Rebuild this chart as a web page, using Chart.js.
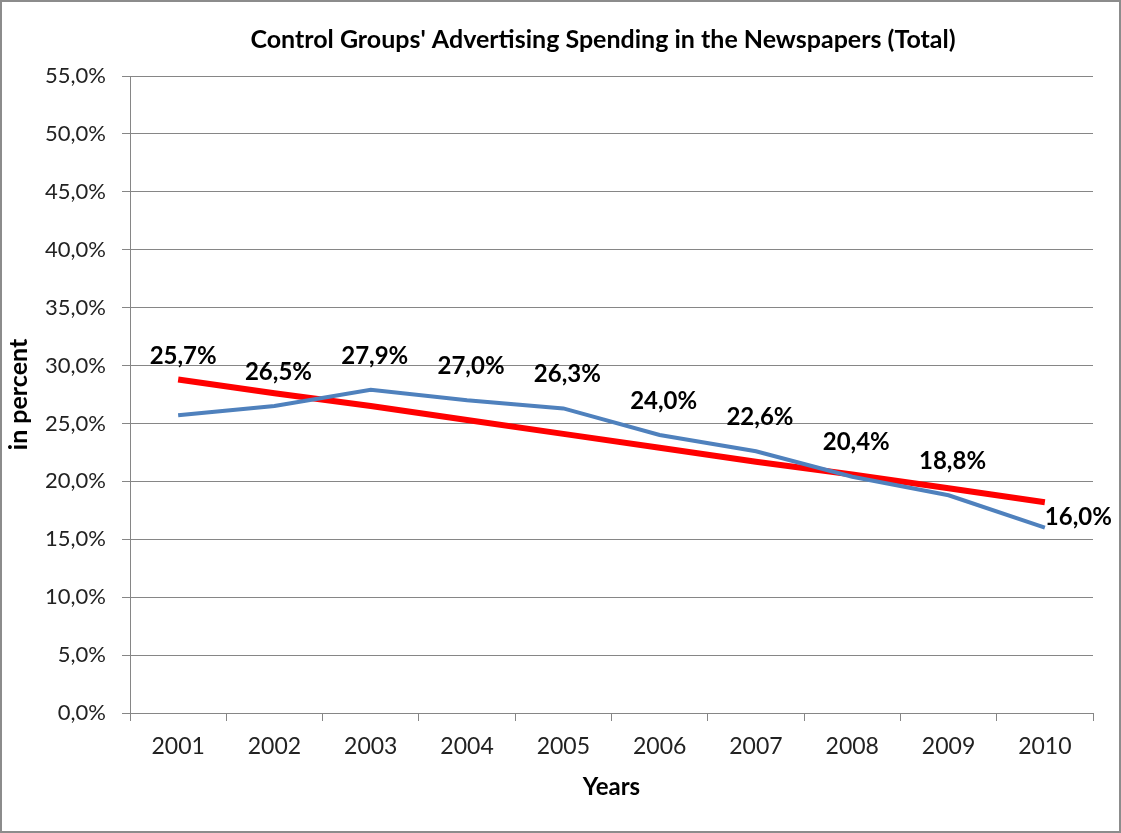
<!DOCTYPE html>
<html>
<head>
<meta charset="utf-8">
<script src="https://cdn.jsdelivr.net/npm/chart.js@4"></script>
<style>
  html, body { margin: 0; padding: 0; background: #fff; }
  #wrap { width: 1121px; height: 833px; }
</style>
</head>
<body>
<div id="wrap"><canvas id="spendChart" width="1121" height="833"></canvas></div>
<script>
// Jahre und Werte (in Prozent)
const years = ['2001', '2002', '2003', '2004', '2005', '2006', '2007', '2008', '2009', '2010'];
const spending = [25.7, 26.5, 27.9, 27.0, 26.3, 24.0, 22.6, 20.4, 18.8, 16.0];
// Trendlinie
const trend = [28.8, 27.6, 26.5, 25.3, 24.1, 22.9, 21.7, 20.6, 19.4, 18.2];

const chartTitle = "Control Groups' Advertising Spending in the Newspapers (Total)";
const fontFam = 'Lato, "Open Sans", sans-serif';

function pct(v) {
    return v.toFixed(1).replace('.', ',') + '%';
}

// Rahmen, Titel und Datenbeschriftungen
const decorPlugin = {
    id: 'decor',
    beforeDraw(chart) {
        const ctx = chart.ctx;
        ctx.save();
        ctx.fillStyle = '#fff';
        ctx.fillRect(0, 0, chart.width, chart.height);
        ctx.restore();
    },
    afterDraw(chart) {
        const ctx = chart.ctx;
        ctx.save();
        // Rahmen
        ctx.strokeStyle = '#8c8c8c';
        ctx.lineWidth = 2;
        ctx.strokeRect(1, 1, chart.width - 2, chart.height - 2);

        // Titel
        ctx.fillStyle = '#000';
        ctx.font = 'bold 25px ' + fontFam;
        ctx.textAlign = 'center';
        ctx.textBaseline = 'middle';
        ctx.fillText(chartTitle, 603, 40);

        // Werte über der blauen Linie
        const meta = chart.getDatasetMeta(0);
        ctx.font = 'bold 24px ' + fontFam;
        meta.data.forEach((pt, i) => {
            let x = pt.x + 4, y = pt.y - 34;
            ctx.textAlign = 'center';
            if (i === 0) { x = pt.x + 5; y = pt.y - 59; }
            if (i === meta.data.length - 1) { x = pt.x; y = pt.y - 10; ctx.textAlign = 'left'; }
            ctx.fillText(pct(spending[i]), x, y);
        });
        ctx.restore();
    }
};

const ctx = document.getElementById('spendChart').getContext('2d');
new Chart(ctx, {
    type: 'line',
    data: {
        labels: years,
        datasets: [{
            label: 'Spending',
            data: spending,
            borderColor: '#4F81BD',
            borderWidth: 4,
            pointRadius: 0,
            tension: 0,
            fill: false
        }, {
            label: 'Trend',
            data: trend,
            borderColor: '#FF0000',
            borderWidth: 6,
            pointRadius: 0,
            tension: 0,
            fill: false
        }]
    },
    options: {
        responsive: false,
        animation: false,
        layout: { padding: { top: 76, right: 28, left: 0, bottom: 0 } },
        plugins: {
            legend: { display: false },
            tooltip: { enabled: false }
        },
        scales: {
            x: {
                offset: true,
                grid: {
                    offset: true,
                    drawOnChartArea: false,
                    drawTicks: true,
                    tickLength: 8,
                    color: '#868686'
                },
                border: { color: '#868686', width: 1 },
                ticks: {
                    color: '#222',
                    padding: 12,
                    maxRotation: 0,
                    font: { family: fontFam, size: 23 }
                },
                title: {
                    display: true,
                    text: 'Years',
                    color: '#000',
                    font: { family: fontFam, size: 24, weight: 'bold' },
                    padding: { top: 0, bottom: 31 }
                },
                afterFit(scale) { scale.height = 120; }
            },
            y: {
                min: 0,
                max: 55,
                ticks: {
                    stepSize: 5,
                    color: '#222',
                    padding: 16,
                    font: { family: fontFam, size: 22 },
                    callback: v => pct(v)
                },
                grid: {
                    color: '#868686',
                    tickLength: 8
                },
                border: { color: '#868686', width: 1 },
                title: {
                    display: true,
                    text: 'in percent',
                    color: '#000',
                    font: { family: fontFam, size: 25, weight: 'bold' },
                    padding: { top: 4, bottom: 0 }
                },
                afterFit(scale) { scale.width = 130; }
            }
        }
    },
    plugins: [decorPlugin]
});
</script>
</body>
</html>
